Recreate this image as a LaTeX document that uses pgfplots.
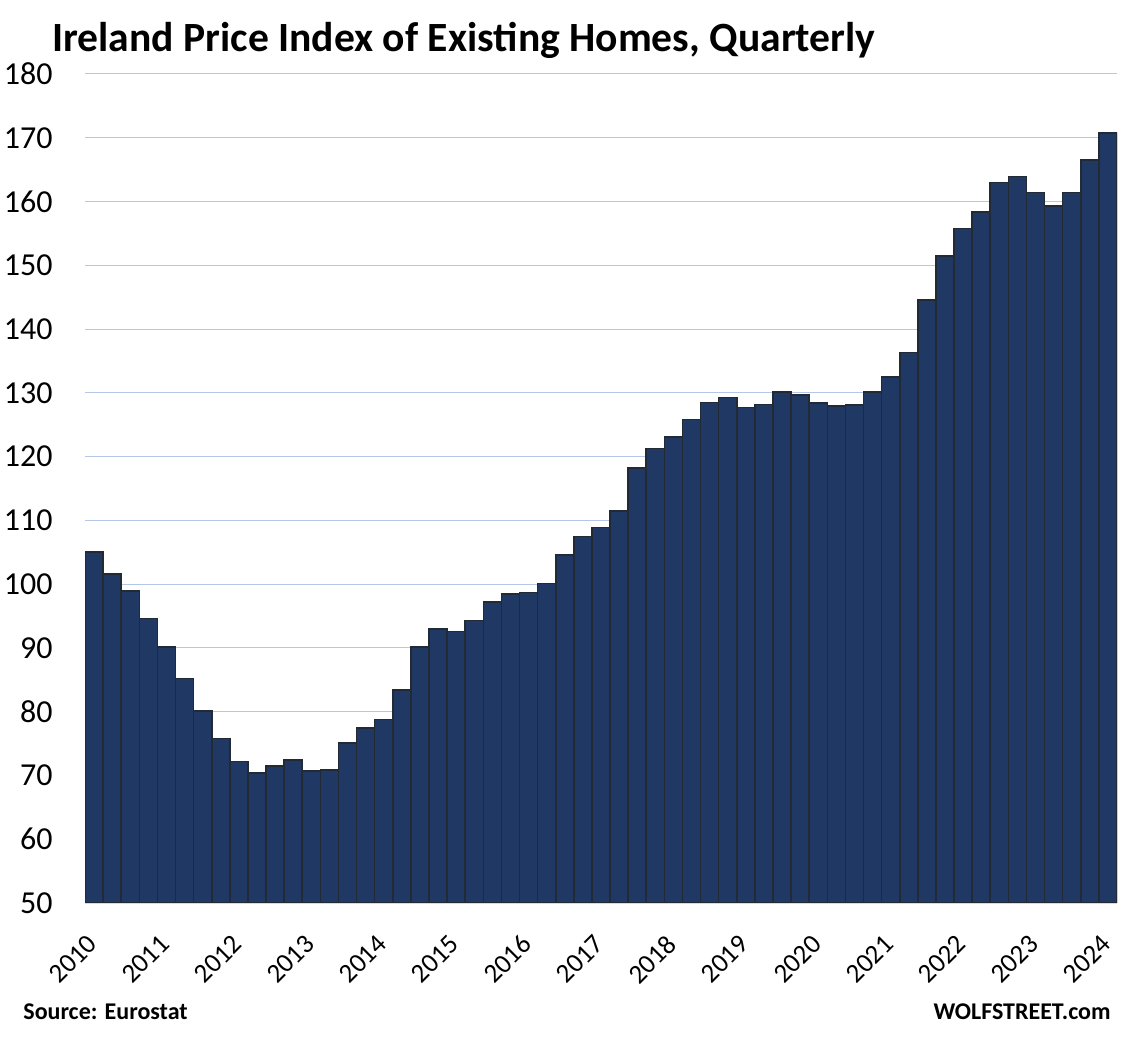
\documentclass[border=0pt]{standalone}
\usepackage{fontspec}
\setmainfont{Carlito}
\usepackage{pgfplots}
\pgfplotsset{compat=1.18}
\usepackage{pgfplotstable}

\definecolor{barfill}{RGB}{32,56,100}
\definecolor{baredge}{RGB}{34,42,53}
\definecolor{gridblue}{RGB}{180,199,231}
\definecolor{basegrey}{RGB}{217,217,217}

% Ireland house price index, quarterly, 2010Q1 .. 2024Q1
\pgfplotstableread{
q  v
0  105.0
1  101.6
2  98.9
3  94.6
4  90.1
5  85.2
6  80.1
7  75.8
8  72.2
9  70.4
10 71.5
11 72.4
12 70.7
13 70.9
14 75.1
15 77.4
16 78.8
17 83.4
18 90.1
19 93.0
20 92.6
21 94.3
22 97.2
23 98.5
24 98.7
25 100.1
26 104.6
27 107.5
28 108.9
29 111.5
30 118.2
31 121.3
32 123.1
33 125.8
34 128.5
35 129.3
36 127.7
37 128.2
38 130.1
39 129.7
40 128.4
41 127.9
42 128.1
43 130.1
44 132.5
45 136.3
46 144.6
47 151.5
48 155.8
49 158.4
50 163.0
51 163.9
52 161.4
53 159.3
54 161.4
55 166.5
56 170.7
}\hpi

\newcommand{\yr}[1]{\rotatebox{45}{#1}}

\begin{document}
\begin{tikzpicture}
\useasboundingbox (0,0) rectangle (565pt,519pt);
\begin{axis}[
  at={(42.5pt,67.5pt)}, anchor=south west,
  scale only axis,
  width=516pt, height=414.5pt,
  xmin=-0.5, xmax=56.5,
  ymin=50, ymax=180,
  ytick={50,60,...,180},
  xtick={0,4,...,56},
  xticklabels={\yr{2010},\yr{2011},\yr{2012},\yr{2013},\yr{2014},\yr{2015},\yr{2016},\yr{2017},\yr{2018},\yr{2019},\yr{2020},\yr{2021},\yr{2022},\yr{2023},\yr{2024}},
  ymajorgrids,
  grid style={draw=gridblue, line width=0.5pt},
  major tick length=0pt,
  separate axis lines,
  axis x line*=bottom,
  axis y line*=left,
  x axis line style={draw=basegrey, line width=1.3pt, -},
  y axis line style={draw=none},
  /pgf/number format/assume math mode=true,
  yticklabel style={font=\fontsize{16}{18}\selectfont, inner sep=0pt, anchor=east, xshift=-16pt},
  xticklabel style={font=\fontsize{13.5}{16}\selectfont, inner sep=0pt, anchor=north east, xshift=2.5pt, yshift=-15pt},
]
\addplot[ybar, bar width=1, fill=barfill, draw=baredge, line width=0.8pt] table[x=q, y=v] {\hpi};
\end{axis}
\node[anchor=base west, font=\fontsize{20.8}{24}\selectfont\bfseries, inner sep=0pt] at (26pt,493pt) {Ireland Price Index of Existing Homes, Quarterly};
\node[anchor=base west, font=\fontsize{12}{14}\selectfont\bfseries, inner sep=0pt] at (11.5pt,9pt) {Source: Eurostat};
\node[anchor=base east, font=\fontsize{12}{14}\selectfont\bfseries, inner sep=0pt] at (555.5pt,9pt) {WOLFSTREET.com};
\end{tikzpicture}
\end{document}
